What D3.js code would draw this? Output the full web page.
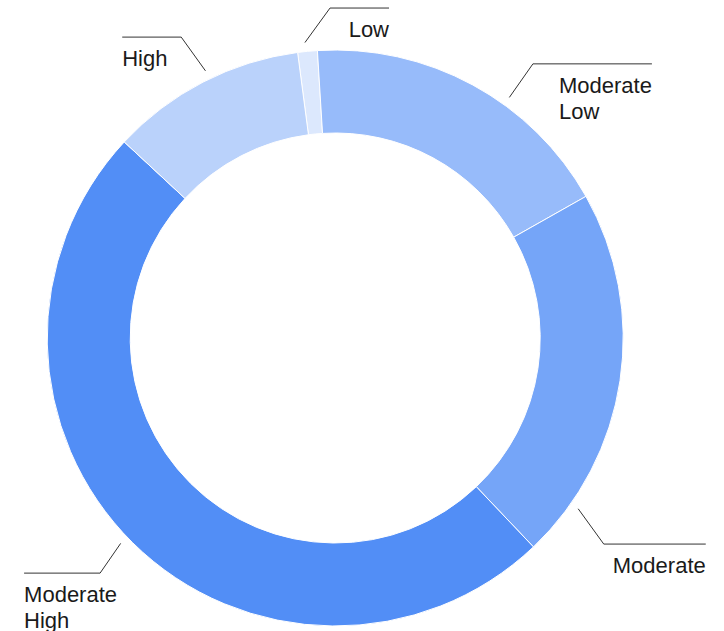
<!DOCTYPE html>
<html>
<head>
<meta charset="utf-8">
<script src="https://cdn.jsdelivr.net/npm/d3@7"></script>
<style>
  html, body { margin: 0; padding: 0; background: #fff; }
  svg text { font-family: "Liberation Sans", Arial, sans-serif; font-size: 22px; fill: #1a1a1a; }
</style>
</head>
<body>
<svg id="donut"></svg>
<script>
// Data
const categories = ['Low', 'Moderate Low', 'Moderate', 'Moderate High', 'High'];
const shares = [1.1, 17.8, 21.1, 49.0, 11.0];
const opacities = [0.2, 0.6, 0.8, 1.0, 0.4];

// Label placement (angles in degrees, clockwise from 12 o'clock)
const labelLayout = [
  { anchor: -5.85, elbow: -0.9, elbowR: 330, len: 59, side: 'right' },
  { anchor: 35.9, elbow: 35.8, elbowR: 338, len: 119, side: 'right' },
  { anchor: 125.1, elbow: 127.5, elbowR: 338.5, len: 102, side: 'right' },
  { anchor: 226.25, elbow: 225, elbowR: 332.5, len: 76, side: 'left' },
  { anchor: -25.9, elbow: -27.1, elbowR: 338, len: 59, side: 'left' }
];

const width = 724;
const height = 631;
const cx = 335.2;
const cy = 338;
const outerR = 288;
const innerR = 205;
const baseColor = d3.rgb('#528ef6');

const svg = d3.select('#donut')
  .attr('width', width)
  .attr('height', height);

const g = svg.append('g')
  .attr('transform', `translate(${cx}, ${cy})`);

const deg = Math.PI / 180;
const pie = d3.pie()
  .sort(null)
  .startAngle(-7.5 * deg)
  .endAngle(352.5 * deg)
  .value(d => d.value);

const arc = d3.arc()
  .innerRadius(innerR)
  .outerRadius(outerR);

const data = categories.map((c, i) => ({ name: c, value: shares[i], opacity: opacities[i] }));

// Mix base colour with white
const tint = a => {
  const w = 255 * (1 - a);
  return d3.rgb(baseColor.r * a + w, baseColor.g * a + w, baseColor.b * a + w).formatHex();
};

g.selectAll('.slice')
  .data(pie(data))
  .enter()
  .append('path')
  .attr('class', 'slice')
  .attr('d', arc)
  .style('fill', d => tint(d.data.opacity))
  .style('stroke', '#fff')
  .style('stroke-width', 1);

// Leader lines and labels
const polar = (a, r) => [r * Math.sin(a * deg), -r * Math.cos(a * deg)];

data.forEach((d, i) => {
  const L = labelLayout[i];
  const p0 = polar(L.anchor, 297);
  const p1 = polar(L.elbow, L.elbowR);
  const dir = L.side === 'right' ? 1 : -1;
  const p2 = [p1[0] + dir * L.len, p1[1]];

  g.append('polyline')
    .attr('points', [p0, p1, p2].map(p => p.join(',')).join(' '))
    .style('fill', 'none')
    .style('stroke', '#333')
    .style('stroke-width', 1);

  const words = d.name.split(' ');
  const text = g.append('text')
    .attr('text-anchor', L.side === 'right' ? 'end' : 'start')
    .attr('x', p2[0])
    .attr('y', p2[1] + 29);

  // right labels: lines start where the longest word starts
  const tspans = words.map((w, k) => text.append('tspan')
    .attr('x', p2[0])
    .attr('dy', k === 0 ? 0 : 26)
    .text(w));

  if (L.side === 'right' && words.length > 1) {
    // left-align the wrapped lines to the first line's start
    const w0 = tspans[0].node().getComputedTextLength();
    text.attr('text-anchor', 'start');
    tspans.forEach(t => t.attr('x', p2[0] - w0));
  }
});
</script>
</body>
</html>
